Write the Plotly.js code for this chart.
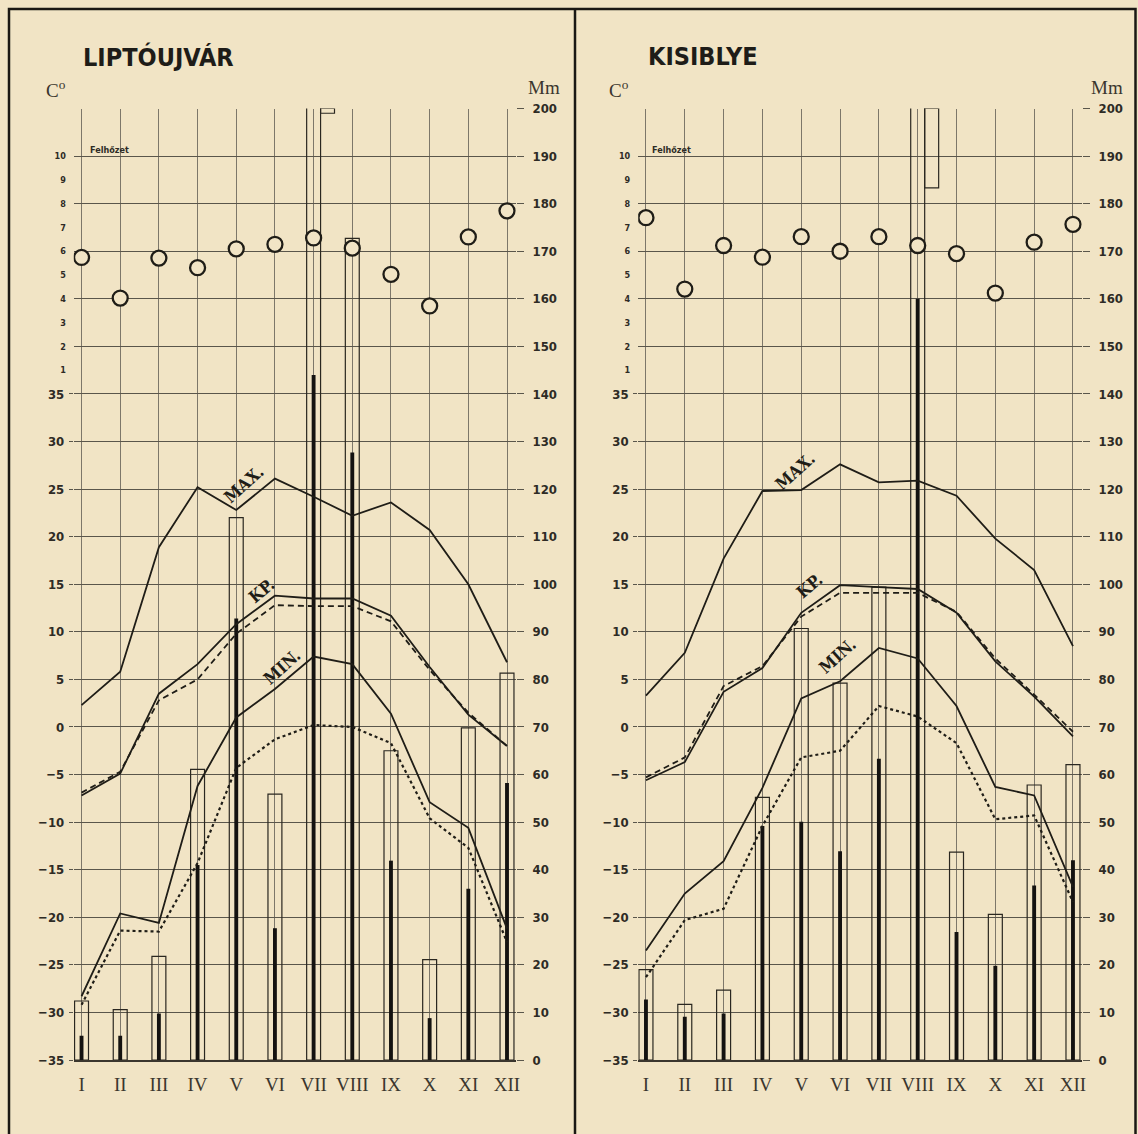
<!DOCTYPE html>
<html>
<head>
<meta charset="utf-8">
<script src="https://cdn.plot.ly/plotly-3.0.1.min.js"></script>
<style>
html,body{margin:0;padding:0;background:#f1e4c5;}
#chart{width:1138px;height:1134px;}
</style>
</head>
<body>
<div id="chart"></div>
<script>
// ---------- DATA ----------
const months = ['I','II','III','IV','V','VI','VII','VIII','IX','X','XI','XII'];

// LIPTÓUJVÁR
const lip_max    = [2.3, 5.8, 18.9, 25.2, 22.8, 26.1, 24.2, 22.2, 23.6, 20.7, 15.0, 6.8];
const lip_kp     = [-7.2, -4.9, 3.5, 6.6, 10.8, 13.8, 13.5, 13.5, 11.7, 6.3, 1.3, -2.0];
const lip_kpNorm = [-6.9, -4.7, 2.8, 5.0, 9.8, 12.8, 12.7, 12.7, 11.1, 6.0, 1.5, -2.0];
const lip_min    = [-28.3, -19.6, -20.6, -6.2, 1.0, 4.0, 7.4, 6.6, 1.4, -7.9, -10.6, -21.2];
const lip_dot    = [-29.2, -21.4, -21.5, -14.3, -4.3, -1.3, 0.2, 0.0, -1.7, -9.6, -12.7, -22.6];
const lip_cloud  = [5.74, 4.03, 5.71, 5.31, 6.1, 6.29, 6.56, 6.13, 5.03, 3.7, 6.6, 7.7];
const lip_precipMax  = [12.4, 10.6, 21.8, 61.1, 114.0, 55.9, 201.0, 172.7, 65.0, 21.1, 69.8, 81.3];
const lip_precipMean = [5.1, 5.1, 9.8, 41.0, 92.8, 27.7, 144.0, 127.7, 41.9, 8.8, 36.0, 58.2];

// KISIBLYE
const kis_max    = [3.3, 7.8, 17.7, 24.8, 24.9, 27.6, 25.7, 25.9, 24.3, 19.8, 16.5, 8.5];
const kis_kp     = [-5.6, -3.7, 3.7, 6.2, 12.0, 14.9, 14.7, 14.5, 12.0, 6.9, 3.2, -1.0];
const kis_kpNorm = [-5.3, -3.2, 4.3, 6.4, 11.6, 14.1, 14.1, 14.1, 12.1, 7.2, 3.4, -0.5];
const kis_min    = [-23.5, -17.5, -14.1, -6.4, 3.0, 4.8, 8.3, 7.2, 2.2, -6.3, -7.2, -16.8];
const kis_dot    = [-26.3, -20.3, -19.1, -10.4, -3.2, -2.5, 2.2, 1.1, -1.7, -9.7, -9.3, -18.4];
const kis_cloud  = [7.41, 4.41, 6.24, 5.75, 6.61, 6.0, 6.61, 6.24, 5.9, 4.24, 6.38, 7.13];
const kis_precipMax  = [19.0, 11.7, 14.7, 55.2, 90.7, 79.2, 99.4, 216.7, 43.7, 30.6, 57.8, 62.1];
const kis_precipMean = [12.7, 9.1, 9.8, 49.2, 50.1, 43.9, 63.3, 160.0, 26.9, 19.8, 36.7, 42.0];

// axis tick labels
const tempTicks  = [-35,-30,-25,-20,-15,-10,-5,0,5,10,15,20,25,30,35];
const cloudTicks = [1,2,3,4,5,6,7,8,9,10];
const mmTicks    = [0,10,20,30,40,50,60,70,80,90,100,110,120,130,140,150,160,170,180,190,200];
const stations   = ['LIPTÓUJVÁR', 'KISIBLYE'];

// ---------- STYLE ----------
const BG = '#f1e4c5';
const INK = '#1f1d17';
const GRID_H = '#5a564b';
const GRID_V = '#7d776a';
const W = 1138, H = 1134;
const px = p => p / W;
const py = p => 1 - p / H;
const MM_MAX = 200;

const yBottom = py(1060), yTop = py(108.5);
const xRange = [-0.2, 11.23];
const domL = [px(73.8), px(515.9)];
const domR = [px(638.2), px(1081.9)];

function panelTraces(s, xa, ya, ta, ca) {
  const foldY = s.pMax.map(v => v > MM_MAX ? v - MM_MAX : null);
  const foldBase = s.pMax.map(v => v > MM_MAX ? 2 * MM_MAX - v : null);
  const line = (y, dash, w) => ({
    type: 'scatter', mode: 'lines', x: months, y: y, xaxis: xa, yaxis: ta,
    line: {color: INK, width: w || 1.8, dash: dash || 'solid'}, hoverinfo: 'skip', showlegend: false
  });
  return [
    {type: 'bar', x: months, y: s.pMax, xaxis: xa, yaxis: ya, width: 0.36,
     marker: {color: 'rgba(0,0,0,0)', line: {color: '#2a2720', width: 1.2}}, showlegend: false, hoverinfo: 'skip'},
    {type: 'bar', x: months, y: foldY, base: foldBase, xaxis: xa, yaxis: ya, width: 0.36, offset: 0.18,
     marker: {color: 'rgba(0,0,0,0)', line: {color: '#2a2720', width: 1.2}}, showlegend: false, hoverinfo: 'skip'},
    {type: 'bar', x: months, y: s.pMean, xaxis: xa, yaxis: ya, width: 0.1,
     marker: {color: '#141210', line: {width: 0}}, showlegend: false, hoverinfo: 'skip'},
    line(s.max), line(s.kp), line(s.kpNorm, '6px,4px'), line(s.min), line(s.dot, 'dot', 2.2),
    {type: 'scatter', mode: 'markers', x: months, y: s.cloud, xaxis: xa, yaxis: ca,
     marker: {symbol: 'circle', size: 15, color: BG, line: {color: INK, width: 2.3}},
     showlegend: false, hoverinfo: 'skip'}
  ];
}

const data = [].concat(
  panelTraces({max: lip_max, kp: lip_kp, kpNorm: lip_kpNorm, min: lip_min, dot: lip_dot,
               cloud: lip_cloud, pMax: lip_precipMax, pMean: lip_precipMean}, 'x', 'y', 'y3', 'y5'),
  panelTraces({max: kis_max, kp: kis_kp, kpNorm: kis_kpNorm, min: kis_min, dot: kis_dot,
               cloud: kis_cloud, pMax: kis_precipMax, pMean: kis_precipMean}, 'x2', 'y2', 'y4', 'y6')
);

const sansB = 'DejaVu Sans Condensed, Liberation Sans Narrow, DejaVu Sans, sans-serif';
const serif = 'Liberation Serif, DejaVu Serif, serif';

function xAx(dom, anchor) {
  return {domain: dom, anchor: anchor, type: 'category', range: xRange,
    showgrid: true, gridcolor: GRID_V, gridwidth: 1, zeroline: false,
    showline: true, linecolor: '#3a362e', linewidth: 1.6, ticks: '',
    tickfont: {family: serif, size: 19, color: '#3a362e'}, ticklabelstandoff: 7, fixedrange: true};
}
function mmAx(dom, anchor) {
  return {domain: dom, anchor: anchor, side: 'right', range: [0, MM_MAX],
    tickmode: 'array', tickvals: mmTicks, ticktext: mmTicks.map(String),
    showgrid: true, gridcolor: GRID_H, gridwidth: 1, zeroline: false, showline: false,
    ticks: 'outside', ticklen: 7, tickcolor: GRID_H, tickwidth: 1, ticklabelstandoff: 6,
    tickfont: {family: sansB, size: 13, color: '#2e2b25', weight: 'bold'}, fixedrange: true};
}
function tAx(over, anchor) {
  return {overlaying: over, anchor: anchor, side: 'left', range: [-35, 65],
    tickmode: 'array', tickvals: tempTicks, ticktext: tempTicks.map(v => v < 0 ? '\u2212' + (-v) : String(v)),
    showgrid: false, zeroline: false, showline: false,
    ticks: 'outside', ticklen: 4, tickcolor: GRID_H, tickwidth: 1, ticklabelstandoff: 2,
    tickfont: {family: sansB, size: 13, color: '#2e2b25', weight: 'bold'}, fixedrange: true};
}
function cAx(over, anchor) {
  return {overlaying: over, anchor: anchor, side: 'left', range: [-28, 12],
    tickmode: 'array', tickvals: cloudTicks, ticktext: cloudTicks.map(String),
    showgrid: false, zeroline: false, showline: false, ticks: '', ticklabelstandoff: 7,
    tickfont: {family: sansB, size: 9, color: '#2e2b25', weight: 'bold'}, fixedrange: true};
}

const dom = [yBottom, yTop];

function lbl(text, x, y, xref, yref, ang, xshift) {
  return {text: text, x: x, y: y, xref: xref, yref: yref, showarrow: false, textangle: ang, xshift: xshift,
    font: {family: 'DejaVu Serif Condensed, DejaVu Serif, serif', size: 17, color: INK, weight: 'bold'}};
}
function ptxt(text, xp, yp, font, xanchor) {
  return {text: text, x: px(xp), y: py(yp), xref: 'paper', yref: 'paper', showarrow: false,
    xanchor: xanchor || 'left', yanchor: 'middle', font: font};
}
const titleFont = {family: sansB, size: 25, color: '#1e1c18', weight: 'bold'};
const unitFont = {family: serif, size: 19, color: '#3a362e'};
const smallFont = {family: sansB, size: 9, color: '#2e2b25', weight: 'bold'};

const annotations = [
  ptxt(stations[0], 81, 57, titleFont),
  ptxt(stations[1], 646, 57, titleFont),
  ptxt('C<sup>o</sup>', 44, 89, unitFont),
  ptxt('C<sup>o</sup>', 607, 89, unitFont),
  ptxt('Mm', 526, 87, unitFont),
  ptxt('Mm', 1089, 87, unitFont),
  ptxt('Felhőzet', 88, 150, smallFont),
  ptxt('Felhőzet', 650, 150, smallFont),
  lbl('MAX.', 'V', 25.5, 'x', 'y3', -42, 8),
  lbl('KP.', 'V', 14.3, 'x', 'y3', -40, 25),
  lbl('MIN.', 'VI', 6.3, 'x', 'y3', -42, 7),
  lbl('MAX.', 'V', 26.9, 'x2', 'y4', -42, -6),
  lbl('KP.', 'V', 14.8, 'x2', 'y4', -40, 8),
  lbl('MIN.', 'VI', 7.5, 'x2', 'y4', -42, -3)
];

const shapes = [
  {type: 'rect', xref: 'paper', yref: 'paper', x0: px(9), x1: px(1135.5), y0: py(1140), y1: py(9),
   line: {color: '#1a1814', width: 2.5}},
  {type: 'line', xref: 'paper', yref: 'paper', x0: px(575), x1: px(575), y0: py(1140), y1: py(9),
   line: {color: '#1a1814', width: 2.5}}
];

const layout = {
  width: W, height: H, margin: {l: 0, r: 0, t: 0, b: 0},
  paper_bgcolor: BG, plot_bgcolor: 'rgba(0,0,0,0)',
  barmode: 'overlay', showlegend: false,
  xaxis: xAx(domL, 'y'), xaxis2: xAx(domR, 'y2'),
  yaxis: mmAx(dom, 'x'), yaxis2: mmAx(dom, 'x2'),
  yaxis3: tAx('y', 'x'), yaxis4: tAx('y2', 'x2'),
  yaxis5: cAx('y', 'x'), yaxis6: cAx('y2', 'x2'),
  annotations: annotations, shapes: shapes
};

Plotly.newPlot('chart', data, layout, {staticPlot: true, displayModeBar: false});
</script>
</body>
</html>
